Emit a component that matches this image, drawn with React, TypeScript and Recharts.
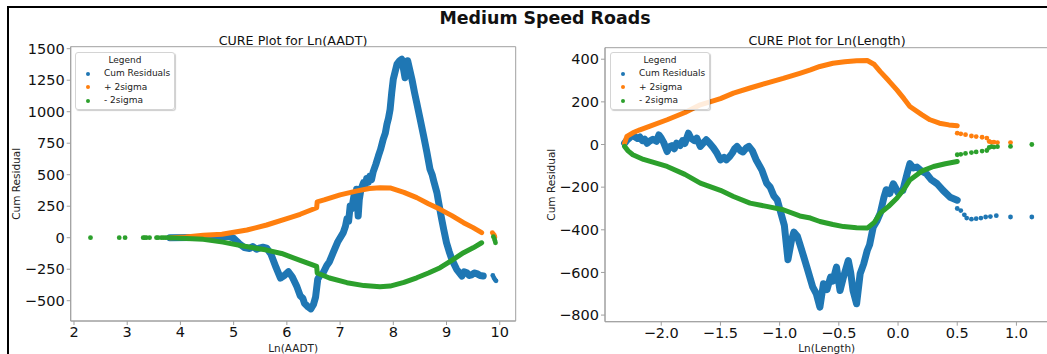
import React from "react";
import {
  ComposedChart,
  Line,
  Scatter,
  XAxis,
  YAxis,
  Legend,
  ReferenceArea,
} from "recharts";

// ---- Ln(AADT) panel values as [x, y] ----
const aadtResid: [number, number][] = [
  [3.8, 0], [4.2, 2], [4.6, 4], [4.9, 12], [5.0, -5], [5.1, -45], [5.2, -78],
  [5.3, -85], [5.36, -70], [5.43, -92], [5.5, -80], [5.55, -75], [5.62, -82],
  [5.7, -130], [5.8, -240], [5.88, -320], [5.95, -300], [6.03, -270],
  [6.1, -310], [6.19, -390], [6.25, -460], [6.3, -480], [6.33, -520],
  [6.4, -550], [6.45, -565], [6.5, -530], [6.54, -470], [6.58, -330],
  [6.62, -300], [6.68, -280], [6.75, -220], [6.8, -190], [6.87, -119],
  [6.96, -30], [7.06, 40], [7.1, 90], [7.13, 150], [7.16, 130], [7.19, 252],
  [7.22, 230], [7.26, 330], [7.29, 300], [7.31, 384], [7.34, 172], [7.36, 300],
  [7.39, 380], [7.44, 437], [7.47, 410], [7.5, 470], [7.53, 440], [7.56, 490],
  [7.59, 460], [7.62, 520], [7.67, 580], [7.72, 649], [7.76, 700], [7.81, 781],
  [7.85, 830], [7.88, 900], [7.91, 950], [7.94, 1019], [7.97, 1150],
  [8.0, 1258], [8.07, 1377], [8.12, 1405], [8.16, 1416], [8.22, 1270],
  [8.27, 1405], [8.31, 1330], [8.35, 1258], [8.4, 1150], [8.44, 1072],
  [8.5, 950], [8.57, 807], [8.63, 680], [8.69, 543], [8.73, 500], [8.76, 450],
  [8.82, 357], [8.86, 260], [8.91, 146], [8.95, 60], [9.0, -40], [9.05, -110],
  [9.1, -172], [9.19, -251], [9.29, -304], [9.33, -270], [9.38, -278],
  [9.43, -300], [9.47, -295], [9.52, -280], [9.57, -285], [9.63, -300],
  [9.69, -304],
];
const aadtResidTail: [number, number][] = [
  [9.87, -300], [9.89, -318], [9.91, -332], [9.93, -342],
];
const aadtUpper: [number, number][] = [
  [3.8, 0], [4.1, 5], [4.43, 19], [4.78, 27], [5.25, 61], [5.62, 101],
  [6.06, 159], [6.25, 186], [6.56, 238], [6.57, 285], [6.7, 300], [7.0, 340],
  [7.3, 370], [7.55, 390], [7.75, 397], [7.94, 395], [8.2, 360], [8.44, 318],
  [8.66, 270], [8.88, 225], [9.1, 175], [9.32, 119], [9.5, 80], [9.66, 40],
];
const aadtUpperTail: [number, number][] = [
  [9.86, 40], [9.88, 30], [9.9, 18], [9.91, 5],
];
const aadtLower: [number, number][] = [
  [3.8, 0], [4.43, -13], [4.8, -35], [5.18, -66], [5.62, -98], [5.9, -125],
  [6.25, -180], [6.56, -228], [6.57, -280], [6.8, -320], [7.13, -357],
  [7.45, -380], [7.75, -389], [7.94, -384], [8.2, -355], [8.44, -318],
  [8.66, -280], [8.88, -238], [9.1, -180], [9.32, -119], [9.5, -80], [9.66, -40],
];
const aadtLowerTail: [number, number][] = [
  [2.31, 0], [2.85, 0], [2.96, 0], [3.3, 0], [3.33, 0], [3.36, 0], [3.42, 0],
  [3.55, 0], [3.58, 0], [3.64, 0], [3.68, 0], [3.72, 0], [3.76, 0],
  [9.88, 8], [9.9, -10], [9.91, -25], [9.92, -40],
];

// ---- Ln(Length) panel values ----
const lenResid: [number, number][] = [
  [-2.31, 6], [-2.29, 20], [-2.27, 30], [-2.24, 45], [-2.22, 35], [-2.2, 28],
  [-2.18, 35], [-2.16, 18], [-2.14, 25], [-2.12, 6], [-2.1, 15], [-2.07, 25],
  [-2.04, 15], [-2.02, 45], [-2.0, 30], [-1.98, 10], [-1.95, -33], [-1.93, -10],
  [-1.91, -5], [-1.89, -20], [-1.87, 6], [-1.84, -5], [-1.82, 18], [-1.8, 5],
  [-1.77, 53], [-1.75, 30], [-1.72, 18], [-1.7, 30], [-1.67, -9], [-1.64, 10],
  [-1.62, 22], [-1.59, 5], [-1.56, -15], [-1.53, -40], [-1.5, -72],
  [-1.47, -60], [-1.45, -72], [-1.42, -55], [-1.4, -40], [-1.38, -20],
  [-1.36, -9], [-1.33, -30], [-1.31, -35], [-1.28, -15], [-1.26, -9],
  [-1.23, -30], [-1.2, -70], [-1.15, -120], [-1.11, -181], [-1.08, -200],
  [-1.05, -240], [-1.02, -260], [-1.0, -300], [-0.96, -380], [-0.93, -540],
  [-0.9, -450], [-0.88, -411], [-0.85, -430], [-0.83, -466], [-0.8, -520],
  [-0.77, -575], [-0.72, -669], [-0.69, -700], [-0.66, -763], [-0.63, -653],
  [-0.6, -680], [-0.57, -622], [-0.55, -640], [-0.52, -575], [-0.49, -685],
  [-0.46, -620], [-0.42, -544], [-0.4, -600], [-0.38, -685], [-0.35, -747],
  [-0.32, -606], [-0.29, -560], [-0.26, -497], [-0.24, -470], [-0.21, -388],
  [-0.18, -360], [-0.15, -322], [-0.12, -250], [-0.1, -212], [-0.07, -230],
  [-0.04, -184], [0.0, -225], [0.04, -216], [0.08, -130], [0.1, -90],
  [0.13, -110], [0.16, -106], [0.2, -125], [0.24, -137], [0.28, -165],
  [0.33, -184], [0.38, -215], [0.44, -247], [0.5, -261],
];
const lenResidTail: [number, number][] = [
  [0.5, -300], [0.53, -310], [0.56, -330], [0.58, -345], [0.62, -350],
  [0.66, -348], [0.7, -345], [0.74, -340], [0.78, -338], [0.83, -334],
  [0.95, -340], [1.13, -340],
];
const lenUpper: [number, number][] = [
  [-2.31, 6], [-2.29, 38], [-2.24, 55], [-2.18, 69], [-2.1, 85], [-1.95, 116],
  [-1.8, 150], [-1.67, 186], [-1.5, 215], [-1.39, 241], [-1.25, 265],
  [-1.11, 288], [-0.97, 310], [-0.83, 334], [-0.74, 350], [-0.66, 366],
  [-0.55, 381], [-0.45, 388], [-0.35, 393], [-0.26, 394], [-0.2, 375],
  [-0.15, 342], [-0.08, 300], [-0.01, 256], [0.05, 215], [0.1, 178], [0.2, 140],
  [0.27, 116], [0.35, 100], [0.43, 92], [0.5, 88],
];
const lenUpperTail: [number, number][] = [
  [0.5, 53], [0.53, 50], [0.57, 46], [0.62, 40], [0.66, 37], [0.71, 34],
  [0.75, 30], [0.77, 14], [0.79, 10], [0.81, 11], [0.84, 9], [0.95, 9],
];
const lenLower: [number, number][] = [
  [-2.31, -9], [-2.28, -30], [-2.24, -48], [-2.15, -70], [-1.95, -103],
  [-1.8, -140], [-1.67, -181], [-1.5, -215], [-1.39, -244], [-1.25, -275],
  [-1.11, -290], [-0.97, -306], [-0.83, -335], [-0.74, -345], [-0.66, -361],
  [-0.55, -375], [-0.46, -385], [-0.35, -390], [-0.26, -392], [-0.2, -365],
  [-0.15, -322], [-0.08, -290], [-0.01, -252], [0.05, -210], [0.1, -166],
  [0.2, -125], [0.3, -103], [0.4, -90], [0.5, -80],
];
const lenLowerTail: [number, number][] = [
  [0.5, -48], [0.53, -46], [0.57, -42], [0.62, -38], [0.66, -35], [0.71, -31],
  [0.75, -28], [0.77, -14], [0.79, -10], [0.81, -12], [0.84, -10], [0.95, -9],
  [1.13, 0],
];

const aadtTicksX = [2, 3, 4, 5, 6, 7, 8, 9, 10];
const aadtTicksY = [-500, -250, 0, 250, 500, 750, 1000, 1250, 1500];
const lenTicksX = [-2, -1.5, -1, -0.5, 0, 0.5, 1];
const lenTicksY = [-800, -600, -400, -200, 0, 200, 400];

const seriesNames = ["Cum Residuals", "+ 2sigma", "- 2sigma"];

const FONT = '"DejaVu Sans", sans-serif';
const BLUE = "#1f77b4";
const ORANGE = "#ff7f0e";
const GREEN = "#2ca02c";
const SPINE = "#a0a0a0";
const seriesColors = [BLUE, ORANGE, GREEN];

const pts = (arr: [number, number][]) => arr.map(([x, y]) => ({ x, y }));
const minus = (s: string) => s.replace("-", "\u2212");

const dotShape = (color: string) => (props: any) =>
  <circle cx={props.cx} cy={props.cy} r={2.4} fill={color} />;

function LegendBox() {
  return (
    <div
      style={{
        position: "relative",
        width: 100,
        height: 58,
        boxSizing: "border-box",
        border: "1px solid #d4d4d4",
        borderRadius: 3,
        background: "rgba(255,255,255,0.85)",
        boxShadow: "1px 1px 1px rgba(0,0,0,0.2)",
        fontFamily: FONT,
        fontSize: 9,
        color: "#222",
      }}
    >
      <div style={{ position: "absolute", top: 2, left: 0, width: "100%", textAlign: "center", lineHeight: "11px" }}>
        Legend
      </div>
      {seriesNames.map((name, i) => (
        <div key={name} style={{ position: "absolute", left: 0, top: 15 + i * 13.5, height: 11, lineHeight: "11px", whiteSpace: "nowrap" }}>
          <span style={{ position: "absolute", left: 10, top: 3.5, width: 4, height: 4, borderRadius: 2, background: seriesColors[i] }} />
          <span style={{ position: "absolute", left: 28 }}>{name}</span>
        </div>
      ))}
    </div>
  );
}

interface PanelProps {
  width: number;
  margin: { top: number; right: number; bottom: number; left: number };
  xDomain: [number, number];
  yDomain: [number, number];
  xTicks: number[];
  yTicks: number[];
  xFmt: (v: number) => string;
  yAxisWidth: number;
  xAxisHeight: number;
  xLabel: string;
  yLabelOffset: number;
  legendLeft: number;
  resid: [number, number][];
  residTail: [number, number][];
  upper: [number, number][];
  upperTail: [number, number][];
  lower: [number, number][];
  lowerTail: [number, number][];
}

function CurePanel(p: PanelProps) {
  const tick = { fill: "#111", fontSize: 14.5, fontFamily: FONT };
  return (
    <ComposedChart width={p.width} height={354} margin={p.margin}>
      <XAxis
        type="number"
        dataKey="x"
        domain={p.xDomain}
        ticks={p.xTicks}
        allowDataOverflow
        height={p.xAxisHeight}
        tick={tick}
        tickFormatter={p.xFmt}
        stroke={SPINE}
        tickSize={4}
        tickMargin={2}
        label={{ value: p.xLabel, position: "insideBottom", offset: 2, style: { fontSize: 10.5, fontFamily: FONT, fill: "#222" } }}
      />
      <YAxis
        type="number"
        dataKey="y"
        domain={p.yDomain}
        ticks={p.yTicks}
        allowDataOverflow
        width={p.yAxisWidth}
        tick={tick}
        tickFormatter={(v: number) => minus(String(v))}
        stroke={SPINE}
        tickSize={4}
        tickMargin={2}
        label={{ value: "Cum Residual", angle: -90, position: "insideLeft", offset: p.yLabelOffset, style: { textAnchor: "middle", fontSize: 10.5, fontFamily: FONT, fill: "#222" } }}
      />
      <ReferenceArea
        x1={p.xDomain[0]}
        x2={p.xDomain[1]}
        y1={p.yDomain[0]}
        y2={p.yDomain[1]}
        fill="none"
        stroke={SPINE}
        strokeOpacity={1}
      />
      <Line data={pts(p.resid)} dataKey="y" name={seriesNames[0]} stroke={BLUE} strokeWidth={7} strokeLinejoin="round" strokeLinecap="round" dot={false} activeDot={false} isAnimationActive={false} />
      <Scatter data={pts(p.residTail)} dataKey="y" fill={BLUE} shape={dotShape(BLUE)} legendType="none" isAnimationActive={false} />
      <Line data={pts(p.upper)} dataKey="y" name={seriesNames[1]} stroke={ORANGE} strokeWidth={5} strokeLinejoin="round" strokeLinecap="round" dot={false} activeDot={false} isAnimationActive={false} />
      <Scatter data={pts(p.upperTail)} dataKey="y" fill={ORANGE} shape={dotShape(ORANGE)} legendType="none" isAnimationActive={false} />
      <Line data={pts(p.lower)} dataKey="y" name={seriesNames[2]} stroke={GREEN} strokeWidth={5} strokeLinejoin="round" strokeLinecap="round" dot={false} activeDot={false} isAnimationActive={false} />
      <Scatter data={pts(p.lowerTail)} dataKey="y" fill={GREEN} shape={dotShape(GREEN)} legendType="none" isAnimationActive={false} />
      <Legend
        layout="vertical"
        align="center"
        verticalAlign="middle"
        content={<LegendBox />}
        wrapperStyle={{ left: p.legendLeft, top: 52, width: 100, height: 58 }}
      />
    </ComposedChart>
  );
}

const titleStyle: React.CSSProperties = {
  position: "absolute",
  fontFamily: FONT,
  whiteSpace: "nowrap",
  transform: "translateX(-50%)",
  lineHeight: 1,
  color: "#111",
};

export default function App() {
  return (
    <div style={{ position: "absolute", left: 0, top: 0, width: 1047, height: 354, overflow: "hidden", background: "#fff" }}>
      <div style={{ position: "absolute", left: 7, top: 6, width: 1100, height: 400, borderTop: "2px solid #000", borderLeft: "2px solid #000" }} />
      <div style={{ ...titleStyle, left: 545, top: 10, fontSize: 17.4, fontWeight: "bold" }}>Medium Speed Roads</div>
      <div style={{ ...titleStyle, left: 293, top: 34.5, fontSize: 12.7 }}>CURE Plot for Ln(AADT)</div>
      <div style={{ ...titleStyle, left: 827, top: 34.5, fontSize: 12.7 }}>CURE Plot for Ln(Length)</div>

      <div style={{ position: "absolute", left: 0, top: 0 }}>
        <CurePanel
          width={520}
          margin={{ top: 46.7, right: 4.3, bottom: 0, left: 0 }}
          xDomain={[1.938, 10.3]}
          yDomain={[-661, 1516]}
          xTicks={aadtTicksX}
          yTicks={aadtTicksY}
          xFmt={(v) => String(v)}
          yAxisWidth={70.7}
          xAxisHeight={33}
          xLabel="Ln(AADT)"
          yLabelOffset={16.7}
          legendLeft={75}
          resid={aadtResid}
          residTail={aadtResidTail}
          upper={aadtUpper}
          upperTail={aadtUpperTail}
          lower={aadtLower}
          lowerTail={aadtLowerTail}
        />
      </div>
      <div style={{ position: "absolute", left: 520, top: 0 }}>
        <CurePanel
          width={530}
          margin={{ top: 47.7, right: 1.6, bottom: 0, left: 0 }}
          xDomain={[-2.475, 1.27]}
          yDomain={[-831, 454]}
          xTicks={lenTicksX}
          yTicks={lenTicksY}
          xFmt={(v) => minus(v.toFixed(1))}
          yAxisWidth={85}
          xAxisHeight={32.3}
          xLabel="Ln(Length)"
          yLabelOffset={31}
          legendLeft={90}
          resid={lenResid}
          residTail={lenResidTail}
          upper={lenUpper}
          upperTail={lenUpperTail}
          lower={lenLower}
          lowerTail={lenLowerTail}
        />
      </div>
    </div>
  );
}
